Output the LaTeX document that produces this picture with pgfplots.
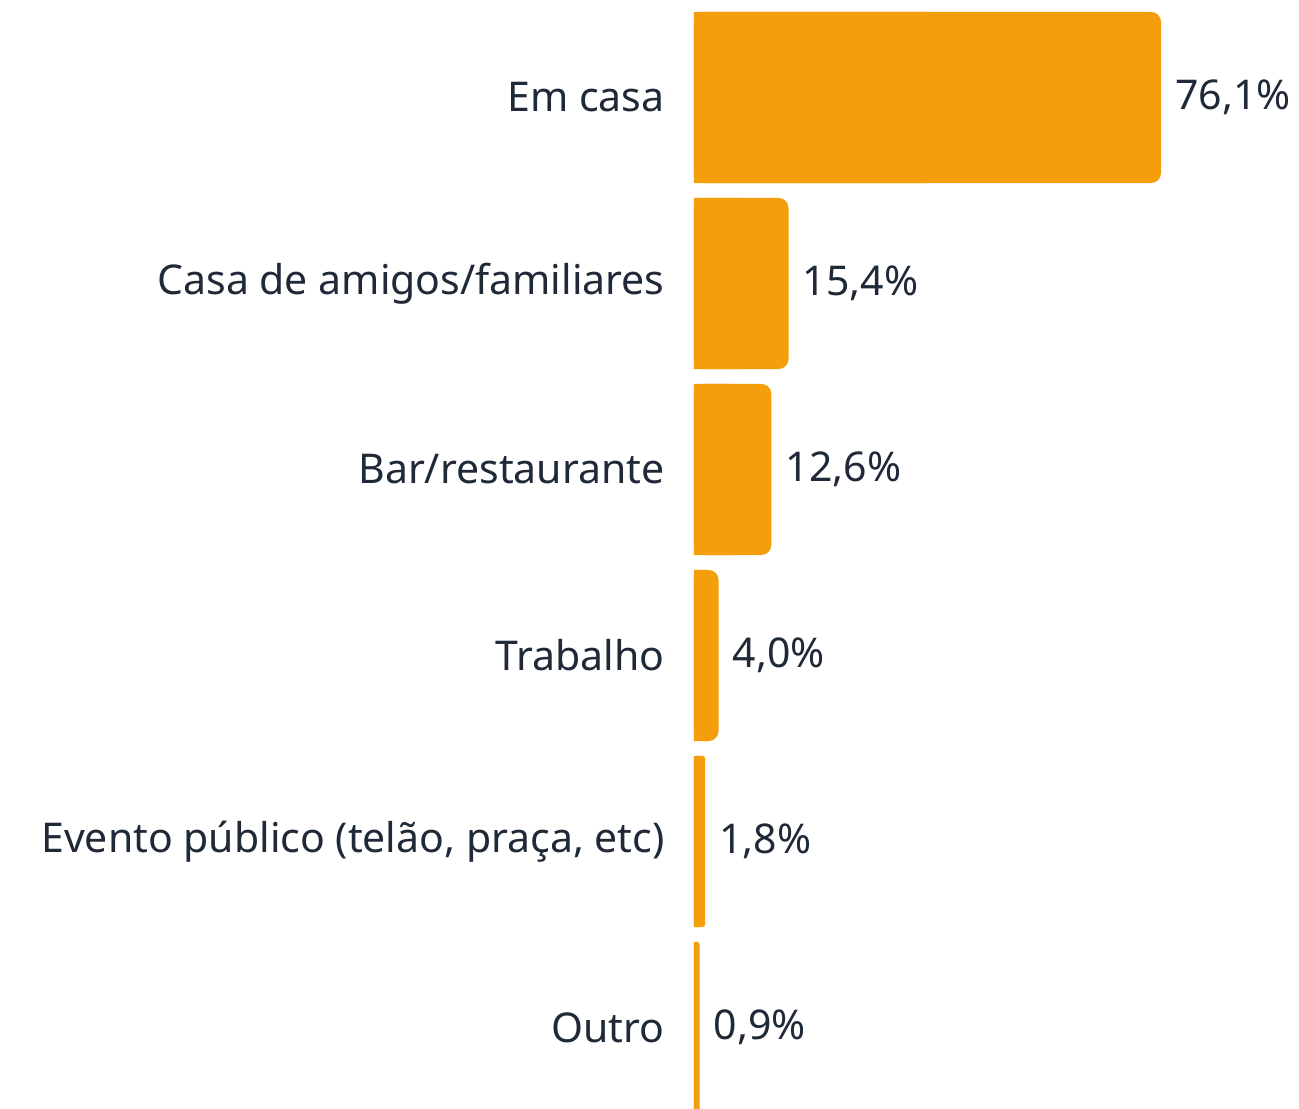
\documentclass[border=0pt]{standalone}
\usepackage{pgfplots}
\pgfplotsset{compat=1.18}
\usepackage{fontspec}
\setmainfont{Noto Sans}
\definecolor{barorange}{RGB}{245,158,11}
\definecolor{txt}{RGB}{31,41,55}
\pgfplotstableread{
y val half
0 76.1 38
1 15.4 7.7
2 12.6 6.3
3 4.0 2.0
}\bigtab
\pgfplotstableread{
y val half
4 1.8 0.9
5 0.9 0.45
}\smalltab
\begin{document}
\fontsize{20.5pt}{24pt}\selectfont
\begin{tikzpicture}
\useasboundingbox (-347pt,0pt) rectangle (302.5pt,554pt);
\begin{axis}[
  at={(0pt,0pt)}, anchor=south west,
  scale only axis,
  width=302.5pt, height=554pt,
  xmin=0, xmax=98.58,
  ymin=-0.524, ymax=5.433,
  y dir=reverse,
  xbar, bar shift=0pt, bar width=0.92,
  axis line style={draw=none},
  xtick=\empty,
  ytick={0,1,2,3,4,5},
  yticklabels={Em casa, Casa de amigos/familiares, Bar/restaurante, Trabalho, {Evento público (telão, praça, etc)}, Outro},
  major tick length=0pt,
  tick style={draw=none},
  yticklabel style={anchor=east, inner sep=0pt, xshift=-14.5pt, text=txt, font=\fontsize{20.5pt}{24pt}\selectfont},
  clip=false,
  /pgf/number format/assume math mode=true,
  nodes near coords={\pgfmathprintnumber[fixed, fixed zerofill, precision=1, use comma]{\pgfplotspointmeta}\%},
  nodes near coords style={anchor=west, inner sep=0pt, xshift=7pt, text=txt, font=\fontsize{20.5pt}{24pt}\selectfont},
]
\addplot[fill=barorange, draw=none, rounded corners=5pt, point meta=x] table[x=val, y=y] {\bigtab};
\addplot[fill=barorange, draw=none, rounded corners=1.2pt, point meta=x] table[x=val, y=y] {\smalltab};
\addplot[fill=barorange, draw=none, nodes near coords={}] table[x=half, y=y] {\bigtab};
\addplot[fill=barorange, draw=none, nodes near coords={}] table[x=half, y=y] {\smalltab};
\end{axis}
\end{tikzpicture}
\end{document}
